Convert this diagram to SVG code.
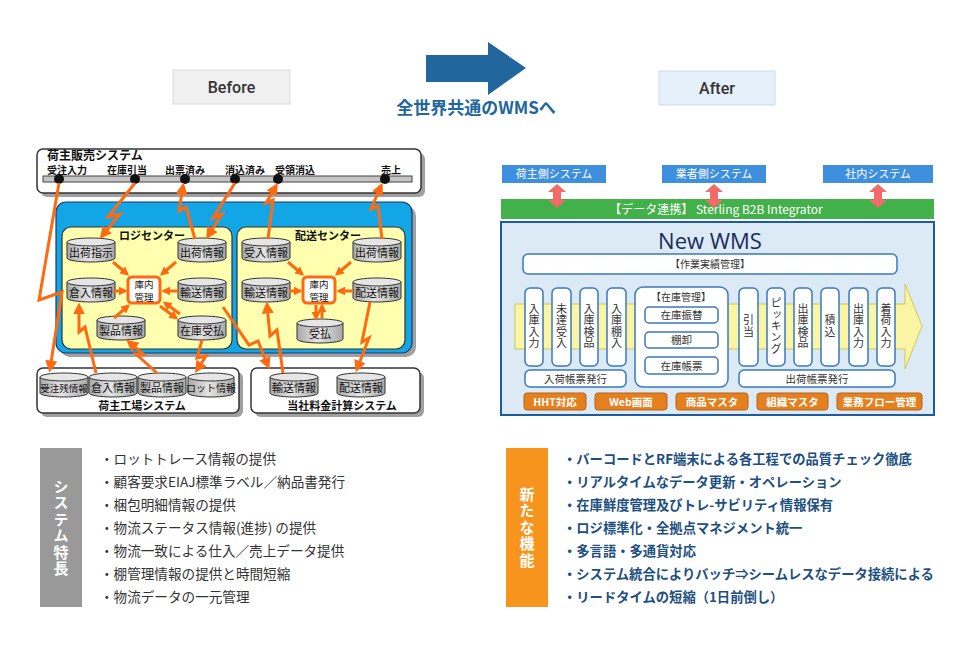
<svg xmlns="http://www.w3.org/2000/svg" width="960" height="660" viewBox="0 0 960 660">
<defs>
<marker id="ah" viewBox="0 0 10 10" refX="7" refY="5" markerWidth="4" markerHeight="4" orient="auto"><path d="M0,0 L10,5 L0,10 z" fill="#ff6a10"/></marker>
<marker id="ah2" viewBox="0 0 10 10" refX="7" refY="5" markerWidth="3" markerHeight="3" orient="auto"><path d="M0,0 L10,5 L0,10 z" fill="#ff6a10"/></marker>
<linearGradient id="cg" x1="0" y1="0" x2="1" y2="0"><stop offset="0" stop-color="#a8a8a8"/><stop offset="0.45" stop-color="#e4e4e4"/><stop offset="1" stop-color="#a8a8a8"/></linearGradient>
</defs>
<style>
text{font-family:"Noto Sans CJK JP","Noto Sans",sans-serif}
.sys{fill:#fff;stroke:#333;stroke-width:1.5}
.shd{fill:#a0a0a0}
.lbl{font-size:10px;font-weight:700;fill:#111}
.cyl{fill:url(#cg);stroke:#333;stroke-width:1}
.cyt{fill:#e6e6e6;stroke:#333;stroke-width:1}
.ct{font-size:11px;fill:#111;text-anchor:middle}
.kt{font-size:9.5px;fill:#111;text-anchor:middle}
.kn{fill:#fff;stroke:#ff6a10;stroke-width:3}
.zig{fill:none;stroke:#ff6a10;stroke-width:3;marker-end:url(#ah)}
.ia{fill:none;stroke:#ff6a10;stroke-width:3;marker-end:url(#ah2)}
.ylw{fill:#ffffb0;stroke:#333;stroke-width:1.2}
.ttl{font-size:11px;font-weight:700;fill:#111;text-anchor:middle}
.bx{fill:#fff;stroke:#3a78c0;stroke-width:1.5}
.bt{font-size:10.5px;fill:#333;text-anchor:middle}
.vt{font-size:11px;fill:#333;text-anchor:middle;writing-mode:vertical-rl;letter-spacing:0.3px}
.ob{fill:#e5801f;stroke:#b9601a;stroke-width:1}
.obt{font-size:10.5px;fill:#fff;text-anchor:middle;font-weight:700}
.tb{fill:#3f8fdf}
.tbt{font-size:11px;fill:#fff;text-anchor:middle}
.dar{fill:#f26b6b}
.lb{font-size:13.6px;fill:#333}
.rb{font-size:13.3px;fill:#1d4f80;font-weight:700}
.vl{font-size:15px;fill:#fff;font-weight:700;text-anchor:middle;writing-mode:vertical-rl;letter-spacing:1.5px}
</style>
<rect width="960" height="660" fill="#fff"/>

<!-- Header -->
<g id="before">
<rect x="173" y="70" width="117" height="34" fill="#f0f0f0" stroke="#dcdcdc"/>
<text x="231.5" y="93" text-anchor="middle" font-size="16" font-weight="500" fill="#333" style="font-family:Roboto,sans-serif">Before</text>
</g>
<g id="after">
<rect x="659" y="71" width="116" height="34" fill="#e6f0fa" stroke="#c6dbf0"/>
<text x="717" y="94" text-anchor="middle" font-size="16" font-weight="500" fill="#333" style="font-family:Roboto,sans-serif">After</text>
</g>
<g id="big-arrow">
<path d="M426,55 H488 V42 L526,68 L488,95 V82 H426 Z" fill="#21669c"/>
<text x="476" y="114" text-anchor="middle" font-size="17" font-weight="700" fill="#21669c">全世界共通のWMSへ</text>
</g>

<!-- Left diagram: Before -->
<g id="sales-system">
<rect class="shd" x="41" y="153" width="384" height="44" rx="6"/>
<rect class="sys" x="37" y="149" width="384" height="44" rx="6"/>
<text x="47" y="160" font-size="12" font-weight="700" fill="#111">荷主販売システム</text>
<text class="lbl" x="47" y="173.5">受注入力</text>
<text class="lbl" x="107" y="173.5">在庫引当</text>
<text class="lbl" x="165" y="173.5">出票済み</text>
<text class="lbl" x="225" y="173.5">消込済み</text>
<text class="lbl" x="275" y="173.5">受領消込</text>
<text class="lbl" x="381" y="173.5">売上</text>
<rect x="43" y="176" width="369" height="6" fill="#c4c4c4" stroke="#444" stroke-width="1"/>
<circle cx="59" cy="179" r="5" fill="#111"/>
<circle cx="135" cy="179" r="5" fill="#111"/>
<circle cx="185" cy="179" r="5" fill="#111"/>
<circle cx="235" cy="179" r="5" fill="#111"/>
<circle cx="278" cy="179" r="5" fill="#111"/>
<circle cx="385" cy="179" r="5" fill="#111"/>
</g>

<g id="company-area">
<rect class="shd" x="60" y="206" width="356" height="151" rx="10"/>
<rect x="56" y="202" width="356" height="151" rx="10" fill="#12a6e6" stroke="#1a3a6a" stroke-width="1.2"/>
</g>

<g id="logi-center">
<rect class="ylw" x="62" y="227" width="170" height="122" rx="9"/>
<text class="ttl" x="152" y="240">ロジセンター</text>
</g>
<g id="haiso-center">
<rect class="ylw" x="237" y="227" width="168" height="122" rx="9"/>
<text class="ttl" x="328" y="240">配送センター</text>
</g>

<g id="l-shukkashiji" transform="translate(67,238)"><path class="cyl" d="M0,4 V20 A24,4 0 0 0 48,20 V4 Z"/><ellipse class="cyt" cx="24" cy="4" rx="24" ry="4"/><text class="ct" x="24" y="19">出荷指示</text></g>
<g id="l-shukkajoho" transform="translate(178,238)"><path class="cyl" d="M0,4 V20 A24,4 0 0 0 48,20 V4 Z"/><ellipse class="cyt" cx="24" cy="4" rx="24" ry="4"/><text class="ct" x="24" y="19">出荷情報</text></g>
<g id="l-kurairi" transform="translate(67,278)"><path class="cyl" d="M0,4 V20 A24,4 0 0 0 48,20 V4 Z"/><ellipse class="cyt" cx="24" cy="4" rx="24" ry="4"/><text class="ct" x="24" y="19">倉入情報</text></g>
<g id="l-yuso" transform="translate(178,278)"><path class="cyl" d="M0,4 V20 A24,4 0 0 0 48,20 V4 Z"/><ellipse class="cyt" cx="24" cy="4" rx="24" ry="4"/><text class="ct" x="24" y="19">輸送情報</text></g>
<g id="l-seihin" transform="translate(97,316)"><path class="cyl" d="M0,4 V20 A24,4 0 0 0 48,20 V4 Z"/><ellipse class="cyt" cx="24" cy="4" rx="24" ry="4"/><text class="ct" x="24" y="19">製品情報</text></g>
<g id="l-zaiko" transform="translate(178,316)"><path class="cyl" d="M0,4 V20 A24,4 0 0 0 48,20 V4 Z"/><ellipse class="cyt" cx="24" cy="4" rx="24" ry="4"/><text class="ct" x="24" y="19">在庫受払</text></g>
<g id="l-konai"><rect class="kn" x="128" y="277" width="32" height="26" rx="4"/><text class="kt" x="144" y="287.5">庫内</text><text class="kt" x="144" y="300.5">管理</text></g>

<g id="r-ukeire" transform="translate(242,238)"><path class="cyl" d="M0,4 V20 A24,4 0 0 0 48,20 V4 Z"/><ellipse class="cyt" cx="24" cy="4" rx="24" ry="4"/><text class="ct" x="24" y="19">受入情報</text></g>
<g id="r-shukka" transform="translate(353,238)"><path class="cyl" d="M0,4 V20 A24,4 0 0 0 48,20 V4 Z"/><ellipse class="cyt" cx="24" cy="4" rx="24" ry="4"/><text class="ct" x="24" y="19">出荷情報</text></g>
<g id="r-yuso" transform="translate(242,278)"><path class="cyl" d="M0,4 V20 A24,4 0 0 0 48,20 V4 Z"/><ellipse class="cyt" cx="24" cy="4" rx="24" ry="4"/><text class="ct" x="24" y="19">輸送情報</text></g>
<g id="r-haiso" transform="translate(353,278)"><path class="cyl" d="M0,4 V20 A24,4 0 0 0 48,20 V4 Z"/><ellipse class="cyt" cx="24" cy="4" rx="24" ry="4"/><text class="ct" x="24" y="19">配送情報</text></g>
<g id="r-ukebarai" transform="translate(297,319)"><path class="cyl" d="M0,4 V20 A23,4 0 0 0 46,20 V4 Z"/><ellipse class="cyt" cx="23" cy="4" rx="23" ry="4"/><text class="ct" x="23" y="19">受払</text></g>
<g id="r-konai"><rect class="kn" x="303" y="277" width="32" height="26" rx="4"/><text class="kt" x="319" y="287.5">庫内</text><text class="kt" x="319" y="300.5">管理</text></g>

<g id="factory-system">
<rect class="shd" x="41" y="372" width="202" height="45" rx="6"/>
<rect class="sys" x="37" y="368" width="202" height="45" rx="6"/>
<text class="ttl" x="142" y="410">荷主工場システム</text>
</g>
<g id="f-juchuzan" transform="translate(40,373)"><path class="cyl" d="M0,4 V20 A24,4 0 0 0 48,20 V4 Z"/><ellipse class="cyt" cx="24" cy="4" rx="24" ry="4"/><text class="ct" x="24" y="19" style="font-size:9.5px">受注残情報</text></g>
<g id="f-kurairi" transform="translate(89,373)"><path class="cyl" d="M0,4 V20 A24,4 0 0 0 48,20 V4 Z"/><ellipse class="cyt" cx="24" cy="4" rx="24" ry="4"/><text class="ct" x="24" y="19">倉入情報</text></g>
<g id="f-seihin" transform="translate(138,373)"><path class="cyl" d="M0,4 V20 A24,4 0 0 0 48,20 V4 Z"/><ellipse class="cyt" cx="24" cy="4" rx="24" ry="4"/><text class="ct" x="24" y="19">製品情報</text></g>
<g id="f-lot" transform="translate(188,373)"><path class="cyl" d="M0,4 V20 A23,4 0 0 0 46,20 V4 Z"/><ellipse class="cyt" cx="23" cy="4" rx="23" ry="4"/><text class="ct" x="23" y="19" style="font-size:10px">ロット情報</text></g>

<g id="fee-system">
<rect class="shd" x="255" y="372" width="169" height="45" rx="6"/>
<rect class="sys" x="251" y="368" width="169" height="45" rx="6"/>
<text class="ttl" x="342" y="410">当社料金計算システム</text>
</g>
<g id="p-yuso" transform="translate(270,373)"><path class="cyl" d="M0,4 V20 A24,4 0 0 0 48,20 V4 Z"/><ellipse class="cyt" cx="24" cy="4" rx="24" ry="4"/><text class="ct" x="24" y="19">輸送情報</text></g>
<g id="p-haiso" transform="translate(337,373)"><path class="cyl" d="M0,4 V20 A24,4 0 0 0 48,20 V4 Z"/><ellipse class="cyt" cx="24" cy="4" rx="24" ry="4"/><text class="ct" x="24" y="19">配送情報</text></g>

<g id="connectors">
<polyline class="zig" points="59,183 39,300 62,292 50,369"/>
<polyline class="zig" points="135,183 108,217 120,214 102,236"/>
<polyline class="zig" points="195,239 186,207 179,211 183,186"/>
<polyline class="zig" points="235,183 213,218 222,214 208,236"/>
<polyline class="zig" points="268,239 273,200 266,203 276,186"/>
<polyline class="zig" points="382,239 378,206 371,209 381,186"/>
<polyline class="zig" points="96,373 85,327 79,332 79,306"/>
<polyline class="zig" points="157,373 136,354 143,354 129,342"/>
<polyline class="zig" points="202,340 197,358 206,356 197,370"/>
<polyline class="zig" points="223,307 249,345 258,341 268,366"/>
<polyline class="zig" points="283,373 277,330 270,336 267,305"/>
<polyline class="zig" points="370,302 362,342 369,338 357,369"/>
<line class="ia" x1="113" y1="262" x2="127" y2="274"/>
<line class="ia" x1="176" y1="262" x2="162" y2="274"/>
<line class="ia" x1="113" y1="291" x2="125" y2="291"/>
<line class="ia" x1="178" y1="291" x2="164" y2="291"/>
<line class="ia" x1="114" y1="318" x2="128" y2="306"/>
<line class="ia" x1="160" y1="306" x2="176" y2="318"/>
<line class="ia" x1="180" y1="314" x2="165" y2="303"/>
<line class="ia" x1="288" y1="262" x2="302" y2="274"/>
<line class="ia" x1="351" y1="262" x2="337" y2="274"/>
<line class="ia" x1="289" y1="291" x2="300" y2="291"/>
<line class="ia" x1="353" y1="291" x2="339" y2="291"/>
<line class="ia" x1="316" y1="305" x2="316" y2="318"/>
<line class="ia" x1="322" y1="318" x2="322" y2="306"/>
</g>

<!-- Right diagram: After -->
<g id="t-ninushi"><rect class="tb" x="502" y="165" width="104" height="18"/><text class="tbt" x="554" y="178">荷主側システム</text></g>
<g id="t-gyosha"><rect class="tb" x="662" y="165" width="104" height="18"/><text class="tbt" x="714" y="178">業者側システム</text></g>
<g id="t-shanai"><rect class="tb" x="823" y="165" width="110" height="18"/><text class="tbt" x="878" y="178">社内システム</text></g>
<g id="b2b">
<rect x="501" y="199" width="433" height="20" fill="#42b149"/>
<text x="716" y="213.5" text-anchor="middle" font-size="12" fill="#fff">【データ連携】 Sterling B2B Integrator</text>
</g>
<g id="sync-arrows">
<path class="dar" d="M557,184 L566,192 H561 V200 H566 L557,208 L548,200 H553 V192 H548 Z"/>
<path class="dar" d="M714,184 L723,192 H718 V200 H723 L714,208 L705,200 H710 V192 H705 Z"/>
<path class="dar" d="M878,184 L887,192 H882 V200 H887 L878,208 L869,200 H874 V192 H869 Z"/>
</g>

<g id="new-wms">
<rect x="501" y="222" width="433" height="193" fill="#dbeaf5" stroke="#1e5aa0" stroke-width="2"/>
<text x="710" y="249" text-anchor="middle" font-size="22" fill="#1a2b5c" style="font-family:'Open Sans','Noto Sans',sans-serif">New WMS</text>
</g>
<g id="sagyo"><rect class="bx" x="523" y="254" width="374" height="20" rx="5"/><text class="bt" x="710" y="268" style="font-size:10px">【作業実績管理】</text></g>
<g id="flow-band"><path d="M515,304 H905 V284 L922,326 L905,369 V349 H515 Z" fill="#faf5a2" stroke="#d3c75a" stroke-width="1"/></g>

<g id="v-nyuko-nyuryoku"><rect class="bx" x="525" y="288" width="18" height="78" rx="5"/><text class="vt" x="534" y="326">入庫入力</text></g>
<g id="v-mitatsu"><rect class="bx" x="552" y="288" width="19" height="78" rx="5"/><text class="vt" x="561.5" y="326">未達受入</text></g>
<g id="v-nyuko-kenpin"><rect class="bx" x="580" y="288" width="18" height="78" rx="5"/><text class="vt" x="589" y="326">入庫検品</text></g>
<g id="v-nyuko-tanaire"><rect class="bx" x="607" y="288" width="19" height="78" rx="5"/><text class="vt" x="616.5" y="326">入庫棚入</text></g>

<g id="zaiko-kanri">
<rect class="bx" x="635" y="287" width="93" height="100" rx="8"/>
<text class="bt" x="681" y="301" style="font-size:10px">【在庫管理】</text>
<rect class="bx" x="645" y="307" width="73" height="16" rx="4"/><text class="bt" x="681.5" y="319">在庫振替</text>
<rect class="bx" x="645" y="332" width="73" height="16" rx="4"/><text class="bt" x="681.5" y="344">棚卸</text>
<rect class="bx" x="645" y="357" width="73" height="17" rx="4"/><text class="bt" x="681.5" y="369.5">在庫帳票</text>
</g>

<g id="v-hikiate"><rect class="bx" x="739" y="288" width="19" height="78" rx="5"/><text class="vt" x="748.5" y="326">引当</text></g>
<g id="v-picking"><rect class="bx" x="767" y="288" width="18" height="78" rx="5"/><text class="vt" x="776" y="326">ピッキング</text></g>
<g id="v-shukko-kenpin"><rect class="bx" x="794" y="288" width="18" height="78" rx="5"/><text class="vt" x="803" y="326">出庫検品</text></g>
<g id="v-tsumikomi"><rect class="bx" x="821" y="288" width="18" height="78" rx="5"/><text class="vt" x="830" y="326">積込</text></g>
<g id="v-shukko-nyuryoku"><rect class="bx" x="849" y="288" width="19" height="78" rx="5"/><text class="vt" x="858.5" y="326">出庫入力</text></g>
<g id="v-chakuni"><rect class="bx" x="877" y="288" width="18" height="78" rx="5"/><text class="vt" x="886" y="326">着荷入力</text></g>

<g id="nyuka-chohyo"><rect class="bx" x="525" y="370" width="101" height="17" rx="5"/><text class="bt" x="575.5" y="382.5">入荷帳票発行</text></g>
<g id="shukka-chohyo"><rect class="bx" x="739" y="370" width="156" height="17" rx="5"/><text class="bt" x="817" y="382.5">出荷帳票発行</text></g>

<g id="o-hht"><rect class="ob" x="524" y="393" width="62" height="17" rx="3"/><text class="obt" x="555" y="405.5">HHT対応</text></g>
<g id="o-web"><rect class="ob" x="595" y="393" width="72" height="17" rx="3"/><text class="obt" x="631" y="405.5">Web画面</text></g>
<g id="o-shohin"><rect class="ob" x="676" y="393" width="72" height="17" rx="3"/><text class="obt" x="712" y="405.5">商品マスタ</text></g>
<g id="o-soshiki"><rect class="ob" x="757" y="393" width="71" height="17" rx="3"/><text class="obt" x="792.5" y="405.5">組織マスタ</text></g>
<g id="o-flow"><rect class="ob" x="837" y="393" width="85" height="17" rx="3"/><text class="obt" x="879.5" y="405.5">業務フロー管理</text></g>

<!-- Bottom text sections -->
<g id="features-left">
<rect x="40" y="448" width="42" height="159" fill="#999"/>
<text class="vl" x="61" y="528">システム特長</text>
<text class="lb" x="100" y="464">・ロットトレース情報の提供</text>
<text class="lb" x="100" y="487">・顧客要求EIAJ標準ラベル／納品書発行</text>
<text class="lb" x="100" y="510">・梱包明細情報の提供</text>
<text class="lb" x="100" y="533">・物流ステータス情報(進捗) の提供</text>
<text class="lb" x="100" y="556">・物流一致による仕入／売上データ提供</text>
<text class="lb" x="100" y="579">・棚管理情報の提供と時間短縮</text>
<text class="lb" x="100" y="602">・物流データの一元管理</text>
</g>
<g id="features-right">
<rect x="506" y="448" width="42" height="159" fill="#f7941d"/>
<text class="vl" x="527" y="528">新たな機能</text>
<text class="rb" x="563" y="464">・バーコードとRF端末による各工程での品質チェック徹底</text>
<text class="rb" x="563" y="487">・リアルタイムなデータ更新・オペレーション</text>
<text class="rb" x="563" y="510">・在庫鮮度管理及びトレ-サビリティ情報保有</text>
<text class="rb" x="563" y="533">・ロジ標準化・全拠点マネジメント統一</text>
<text class="rb" x="563" y="556">・多言語・多通貨対応</text>
<text class="rb" x="563" y="579">・システム統合によりバッチ⇒シームレスなデータ接続による</text>
<text class="rb" x="563" y="602">・リードタイムの短縮（1日前倒し）</text>
</g>
</svg>
